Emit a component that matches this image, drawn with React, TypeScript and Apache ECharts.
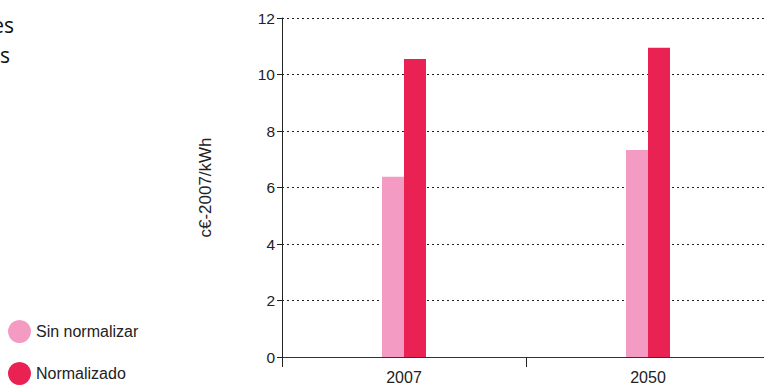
import React, { useEffect, useRef } from "react";
import * as echarts from "echarts";

const categories = ["2007", "2050"];
const sinNormalizar = [6.38, 7.33];
const normalizado = [10.55, 10.95];
const seriesNames = ["Sin normalizar", "Normalizado"];
const yAxisName = "c€-2007/kWh";
const cutTitleLines = ["es", "s"];

export default function App() {
  const ref = useRef<HTMLDivElement>(null);
  useEffect(() => {
    if (!ref.current) return;
    const chart = echarts.init(ref.current, null, { renderer: "svg" });
    const font = "'Liberation Sans', Arial, Helvetica, sans-serif";
    const legendBase = {
      orient: "vertical",
      left: 8,
      padding: 0,
      icon: "circle",
      itemWidth: 23,
      itemHeight: 23,
      itemGap: 5,
      textStyle: { fontSize: 16, color: "#222", fontFamily: font },
    };
    chart.setOption({
      animation: false,
      textStyle: { fontFamily: font },
      grid: { left: 282, right: 0, top: 18, bottom: 28, containLabel: false },
      legend: [
        { ...legendBase, data: [seriesNames[0]], top: 320 },
        { ...legendBase, data: [seriesNames[1]], top: 362 },
      ],
      graphic: cutTitleLines.map((t, i) => ({
        type: "text",
        right: i === 0 ? 756 : 760,
        top: 14 + i * 30,
        style: {
          text: t,
          fontSize: 21,
          fontFamily: "'Open Sans', sans-serif",
          fill: "#111",
          textAlign: "right",
        },
      })),
      xAxis: {
        type: "category",
        data: categories,
        boundaryGap: true,
        axisLine: { show: true, lineStyle: { color: "#333", width: 1 } },
        axisTick: { show: true, length: 10, lineStyle: { color: "#222" } },
        axisLabel: { fontSize: 16, color: "#222", margin: 12 },
        splitLine: { show: false },
      },
      yAxis: {
        type: "value",
        min: 0,
        max: 12,
        interval: 2,
        name: yAxisName,
        nameLocation: "middle",
        nameRotate: 90,
        nameGap: 68,
        nameTextStyle: { fontSize: 17, color: "#222" },
        axisLine: { show: true, lineStyle: { color: "#222", width: 1 } },
        axisTick: { show: true, length: 5, lineStyle: { color: "#222" } },
        axisLabel: { fontSize: 15.5, color: "#222", margin: 7 },
        splitLine: {
          show: true,
          lineStyle: { color: "#222", type: [2, 3], width: 1 },
        },
      },
      series: [
        {
          name: seriesNames[0],
          type: "bar",
          data: sinNormalizar,
          barWidth: 22,
          barGap: "0%",
          itemStyle: { color: "#F39BC2" },
        },
        {
          name: seriesNames[1],
          type: "bar",
          data: normalizado,
          barWidth: 22,
          barGap: "0%",
          itemStyle: { color: "#EA2253" },
        },
      ],
    });
    return () => chart.dispose();
  }, []);
  return (
    <div
      ref={ref}
      style={{ position: "fixed", left: 0, top: 0, width: 770, height: 385, background: "#fff" }}
    />
  );
}
